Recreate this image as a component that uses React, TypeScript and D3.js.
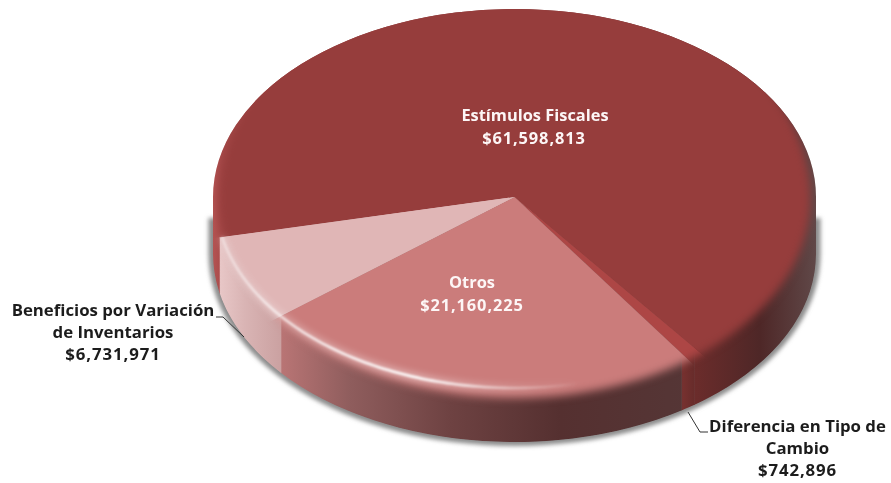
import React from 'react'
import * as d3 from 'd3'

const categories = ['Estímulos Fiscales', 'Diferencia en Tipo de Cambio', 'Otros', 'Beneficios por Variación de Inventarios']
const values = [61598813, 742896, 21160225, 6731971]
const valueLabels = ['$61,598,813', '$742,896', '$21,160,225', '$6,731,971']
const topColors = ['#963d3c', '#ad4645', '#cb7c7b', '#e0b6b6']
const wallStops: [number, string][][] = [
  [[213, '#b45352'], [222, '#a84a4a'], [695, '#6b2c2b'], [760, '#4e2727'], [816, '#604848']],
  [[680, '#7a3230'], [696, '#652b2a']],
  [[278, '#bb7676'], [350, '#8f5d5d'], [450, '#6e4242'], [560, '#553030'], [690, '#553636']],
  [[213, '#eccccc'], [245, '#d9b4b4'], [285, '#c99f9f']],
]

const width = 891
const height = 483
const cx = 514.5
const cy = 197
const rx = 301.5
const ry = 188
const depth = 57
const startAngle = (257.6 * Math.PI) / 180
const deg = Math.PI / 180

const pieData = d3.pie<number>().sort(null).startAngle(startAngle).endAngle(startAngle + 2 * Math.PI)(values)

const lineGen = d3.line()

// angle is clockwise from the top of the ellipse, same as d3.pie
const onEllipse = (a: number, k = 1, dy = 0): [number, number] => [cx + rx * k * Math.sin(a), cy + dy - ry * k * Math.cos(a)]

const arcPoints = (a0: number, a1: number, k = 1, dy = 0) => {
  const n = Math.max(2, Math.ceil(Math.abs(a1 - a0) / (1 * deg)))
  return d3.range(n + 1).map(i => onEllipse(a0 + ((a1 - a0) * i) / n, k, dy))
}

const sector = (a0: number, a1: number, k = 1) =>
  lineGen([[cx, cy], ...arcPoints(a0, a1, k)]) + 'Z'

// front wall between the top rim and the bottom rim
const wall = (a0: number, a1: number) =>
  lineGen([...arcPoints(a0, a1), ...arcPoints(a1, a0, 1, depth)]) + 'Z'

// wall is only visible between 90 and 270 degrees
const wallRanges = (a0: number, a1: number): [number, number][] => {
  const out: [number, number][] = []
  ;[0, 1, 2].forEach(turn => {
    const lo = Math.max(a0, Math.PI / 2 + turn * 2 * Math.PI)
    const hi = Math.min(a1, (3 * Math.PI) / 2 + turn * 2 * Math.PI)
    if (hi > lo) out.push([lo, hi])
  })
  return out
}

const silhouette = `M${cx - rx},${cy} A${rx},${ry} 0 0 1 ${cx + rx},${cy} L${cx + rx},${cy + depth} A${rx},${ry} 0 0 1 ${cx - rx},${cy + depth} Z`
// only the lower half throws a shadow, the back edge stays clean
const shadowShape = `M${cx - 306},218 L${cx + 306},218 L${cx + 306},${cy + depth} A306,192 0 0 1 ${cx - 306},${cy + depth} Z`
const topMask = `M${cx - 296},199 A296,220 0 0 1 ${cx + 296},199 A296,199 0 0 1 ${cx - 296},199 Z`
const rimArc = lineGen(arcPoints(258 * deg, 160 * deg).map(([x, y]) => [cx + ((x - cx) * 299) / rx, 197 + ((y - cy) * 191) / ry] as [number, number])) as string

const labelFont = "'Open Sans', 'Noto Sans', sans-serif"
const valueSpacing = 0.9

const App = () => (
  <svg width={width} height={height} style={{ position: 'absolute', left: 0, top: 0, display: 'block', background: '#fff' }}>
    <defs>
      <filter id="blurShadow" filterUnits="userSpaceOnUse" x="0" y="0" width={width} height={height}>
        <feGaussianBlur stdDeviation="2" />
      </filter>
      <filter id="blurMask" filterUnits="userSpaceOnUse" x="0" y="0" width={width} height={height}>
        <feGaussianBlur stdDeviation="4.5" />
      </filter>
      <filter id="blurLine" filterUnits="userSpaceOnUse" x="0" y="0" width={width} height={height}>
        <feGaussianBlur stdDeviation="1.2" />
      </filter>
      <filter id="blurGlow" filterUnits="userSpaceOnUse" x="0" y="0" width={width} height={height}>
        <feGaussianBlur stdDeviation="3.5" />
      </filter>
      <filter id="blurText" filterUnits="userSpaceOnUse" x="0" y="0" width={width} height={height}>
        <feGaussianBlur stdDeviation="0.3" />
      </filter>
      <clipPath id="bodyClip">
        <path d={silhouette} />
      </clipPath>
      <mask id="topFade" maskUnits="userSpaceOnUse" x="0" y="0" width={width} height={height}>
        <path d={topMask} fill="#fff" filter="url(#blurMask)" />
      </mask>
      {wallStops.map((stops, i) => (
        <linearGradient key={i} id={`wall${i}`} gradientUnits="userSpaceOnUse" x1={stops[0][0]} x2={stops[stops.length - 1][0]} y1="0" y2="0">
          {stops.map(([x, c]) => (
            <stop key={x} offset={(x - stops[0][0]) / (stops[stops.length - 1][0] - stops[0][0])} stopColor={c} />
          ))}
        </linearGradient>
      ))}
      <linearGradient id="rimLight" gradientUnits="userSpaceOnUse" x1="215" x2="580" y1="0" y2="0">
        <stop offset="0" stopColor="#fff" stopOpacity="0.35" />
        <stop offset="0.2" stopColor="#fff" stopOpacity="0.7" />
        <stop offset="0.55" stopColor="#fff" stopOpacity="1" />
        <stop offset="0.8" stopColor="#fff" stopOpacity="0.4" />
        <stop offset="1" stopColor="#fff" stopOpacity="0" />
      </linearGradient>
    </defs>

    {/* drop shadow under the pie */}
    <path d={shadowShape} fill="#8c8c8c" filter="url(#blurShadow)" />

    <g clipPath="url(#bodyClip)">
      {/* side wall and the rim that shows behind the top face */}
      {pieData.map((d, i) => (
        <path key={i} d={sector(d.startAngle, d.endAngle, 1.02)} fill={`url(#wall${i})`} />
      ))}
      {pieData.map((d, i) =>
        wallRanges(d.startAngle, d.endAngle).map((r, j) => (
          <path key={`${i}-${j}`} d={wall(r[0], r[1])} fill={`url(#wall${i})`} stroke={`url(#wall${i})`} strokeWidth="0.5" />
        ))
      )}

      {/* top face, faded into the wall by the mask */}
      <g mask="url(#topFade)">
        {pieData.map((d, i) => (
          <path key={i} d={sector(d.startAngle, d.endAngle, 1.2)} fill={topColors[i]} />
        ))}
      </g>

      {/* light on the front rim */}
      <path d={rimArc} fill="none" stroke="url(#rimLight)" strokeWidth="8" opacity="0.4" filter="url(#blurGlow)" />
      <path d={rimArc} fill="none" stroke="url(#rimLight)" strokeWidth="2.6" filter="url(#blurLine)" />
    </g>

    {/* leader lines */}
    <path d={lineGen([[216, 317], [223, 317], [244, 337]]) as string} fill="none" stroke="#333" strokeWidth="1" />
    <path d={lineGen([[688, 412], [700, 432], [708, 432]]) as string} fill="none" stroke="#333" strokeWidth="1" />

    <g fontFamily={labelFont} fontWeight="700" textAnchor="middle" filter="url(#blurText)">
      <g fill="#fdf6f6" fontSize="16.4">
        <text x={535} y={121}>{categories[0]}</text>
        <text x={534} y={144} letterSpacing={valueSpacing}>{valueLabels[0]}</text>
        <text x={472} y={288}>{categories[2]}</text>
        <text x={472} y={311} letterSpacing={valueSpacing}>{valueLabels[2]}</text>
      </g>
      <g fill="#1c1c1c" fontSize="16.8">
        <text x={113} y={316}>Beneficios por Variación</text>
        <text x={113} y={338}>de Inventarios</text>
        <text x={113} y={360} letterSpacing={valueSpacing}>{valueLabels[3]}</text>
        <text x={797.5} y={432}>Diferencia en Tipo de</text>
        <text x={797.5} y={454}>Cambio</text>
        <text x={797.5} y={476} letterSpacing={valueSpacing}>{valueLabels[1]}</text>
      </g>
    </g>
  </svg>
)

export default App
